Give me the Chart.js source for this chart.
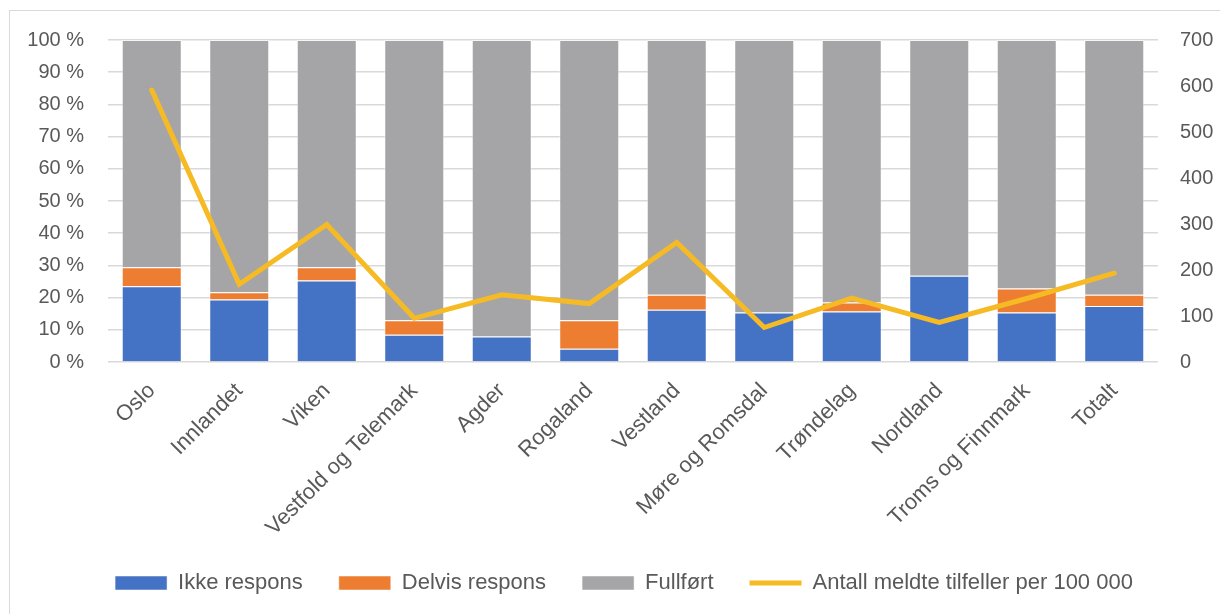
<!DOCTYPE html>
<html>
<head>
<meta charset="utf-8">
<script src="https://cdn.jsdelivr.net/npm/chart.js@4"></script>
<style>
  html, body { margin: 0; padding: 0; background: #fff; overflow: hidden; }
  #wrap { position: relative; width: 1220px; height: 614px; }
  #frame { position: absolute; left: 9px; top: 10px; width: 1300px; height: 700px; border: 1px solid #d9d9d9; }
  #myChart { position: absolute; left: 0; top: 0; }
</style>
</head>
<body>
<div id="wrap">
  <div id="frame"></div>
  <canvas id="myChart" width="1220" height="614"></canvas>
</div>
<script>
const regioner = ['Oslo', 'Innlandet', 'Viken', 'Vestfold og Telemark', 'Agder', 'Rogaland',
  'Vestland', 'Møre og Romsdal', 'Trøndelag', 'Nordland', 'Troms og Finnmark', 'Totalt'];

// andel i prosent
const ikkeRespons   = [23.5, 19.4, 25.3, 8.5, 7.9, 4.1, 16.2, 15.4, 15.7, 26.8, 15.4, 17.4];
const delvisRespons = [5.9, 2.3, 4.1, 4.5, 0.0, 8.9, 4.7, 0.0, 2.8, 0.0, 7.4, 3.5];
const fullfort      = [70.6, 78.3, 70.6, 87.0, 92.1, 87.0, 79.1, 84.6, 81.5, 73.2, 77.2, 79.1];

// meldte tilfeller per 100 000 (høyre akse)
const tilfeller = [591, 169, 299, 95, 146, 127, 260, 75, 139, 86, 138, 193];

const fontFamily = '"Liberation Sans", Arial, sans-serif';
const textColor = '#595959';

// flytter forklaringen litt mot høyre, midt under plottet
const legendShift = {
  id: 'legendShift',
  afterLayout(chart) {
    chart.legend.left += 14;
    chart.legend.right += 14;
  }
};

function chart() {
  const ctx = document.getElementById('myChart').getContext('2d');

  const data = {
    labels: regioner,
    datasets: [
      {
        type: 'bar',
        label: 'Ikke respons',
        data: ikkeRespons,
        backgroundColor: '#4472C4',
        borderColor: 'rgba(255,255,255,0.5)',
        borderWidth: 1,
        pointStyle: 'rect',
        yAxisID: 'y',
        order: 1
      },
      {
        type: 'bar',
        label: 'Delvis respons',
        data: delvisRespons,
        backgroundColor: '#ED7D31',
        borderColor: 'rgba(255,255,255,0.5)',
        borderWidth: 1,
        pointStyle: 'rect',
        yAxisID: 'y',
        order: 1
      },
      {
        type: 'bar',
        label: 'Fullført',
        data: fullfort,
        backgroundColor: '#A5A5A7',
        borderColor: 'rgba(255,255,255,0.5)',
        borderWidth: 1,
        pointStyle: 'rect',
        yAxisID: 'y',
        order: 1
      },
      {
        type: 'line',
        label: 'Antall meldte tilfeller per 100 000',
        data: tilfeller,
        borderColor: '#F6BA25',
        backgroundColor: '#F6BA25',
        borderWidth: 5,
        borderCapStyle: 'round',
        borderJoinStyle: 'miter',
        pointRadius: 0,
        pointStyle: 'line',
        tension: 0,
        fill: false,
        yAxisID: 'y1',
        order: 0   // tegnes over søylene
      }
    ]
  };

  const config = {
    data: data,
    plugins: [legendShift],
    options: {
      responsive: false,
      animation: false,
      devicePixelRatio: 1,
      layout: { padding: { top: 40, right: 0, bottom: 10, left: 0 } },
      datasets: {
        bar: { barPercentage: 0.686, categoryPercentage: 1 }
      },
      scales: {
        x: {
          stacked: true,
          grid: { display: false, drawTicks: false },
          border: { display: false },
          ticks: {
            color: textColor,
            font: { family: fontFamily, size: 22 },
            minRotation: 45,
            maxRotation: 45,
            padding: 16,
            autoSkip: false
          },
          afterFit: (scale) => { scale.height = 174; }
        },
        y: {
          stacked: true,
          position: 'left',
          min: 0,
          max: 100,
          grid: { color: '#d9d9d9', lineWidth: 1.5, drawTicks: false },
          border: { display: false },
          ticks: {
            stepSize: 10,
            color: textColor,
            font: { family: fontFamily, size: 20 },
            padding: 24,
            callback: (v) => v + ' %'
          },
          afterFit: (scale) => { scale.width = 108; }
        },
        y1: {
          position: 'right',
          min: 0,
          max: 700,
          grid: { display: false, drawTicks: false },
          border: { display: false },
          ticks: {
            stepSize: 100,
            color: textColor,
            font: { family: fontFamily, size: 20 },
            padding: 22
          },
          afterFit: (scale) => { scale.width = 62; }
        }
      },
      plugins: {
        tooltip: { enabled: false },
        legend: {
          position: 'bottom',
          labels: {
            usePointStyle: true,
            pointStyleWidth: 52,
            boxHeight: 14,
            padding: 36,
            color: textColor,
            font: { family: fontFamily, size: 22 },
            sort: (a, b) => a.datasetIndex - b.datasetIndex
          }
        }
      }
    }
  };
  new Chart(ctx, config);
}

chart();
</script>
</body>
</html>
